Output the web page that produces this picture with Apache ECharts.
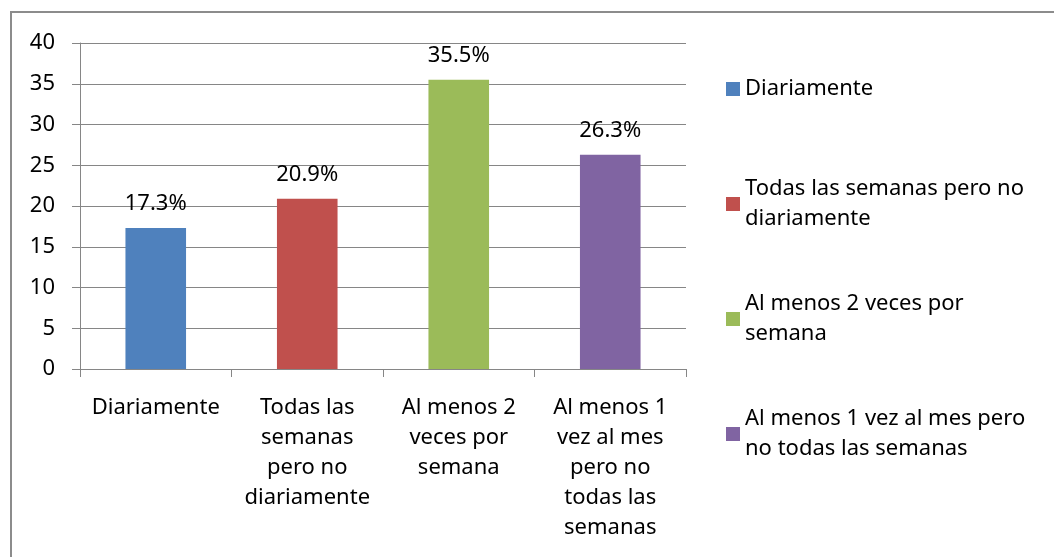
<!DOCTYPE html>
<html>
<head>
<meta charset="utf-8">
<script src="https://cdn.jsdelivr.net/npm/echarts@6/dist/echarts.min.js"></script>
<style>
  html, body { margin: 0; padding: 0; background: #fff; }
  #chart { width: 1054px; height: 557px; }
</style>
</head>
<body>
<div id="chart"></div>
<script>
var categories = ["Diariamente", "Todas las semanas pero no diariamente", "Al menos 2 veces por semana", "Al menos 1 vez al mes pero no todas las semanas"];
var axisLabels = ["Diariamente", "Todas las\nsemanas\npero no\ndiariamente", "Al menos 2\nveces por\nsemana", "Al menos 1\nvez al mes\npero no\ntodas las\nsemanas"];
var legendLabels = ["Diariamente", "Todas las semanas pero no\ndiariamente", "Al menos 2 veces por\nsemana", "Al menos 1 vez al mes pero\nno todas las semanas"];
var values = [17.3, 20.9, 35.5, 26.3];
var colors = ["#4F81BD", "#C0504D", "#9BBB59", "#8064A2"];

var font = "Noto Sans";
var fs = 22;
var lh = 30;

var chart = echarts.init(document.getElementById("chart"));

// one series per category so every bar gets its own legend entry
var series = categories.map(function (name, i) {
    var d = values.map(function (v, j) { return j === i ? v : '-'; });
    return {
        name: name,
        type: 'bar',
        data: d,
        barWidth: '40%',
        barGap: '-100%',
        itemStyle: { color: colors[i] },
        label: {
            show: true,
            position: 'top',
            distance: 13,
            formatter: function (p) { return p.value.toFixed(1) + '%'; },
            color: '#000',
            fontFamily: font,
            fontSize: fs
        },
        animation: false
    };
});

// pad each legend text so the icon sits on the first line and items are evenly spaced
var legendData = categories.map(function (name, i) {
    var lines = legendLabels[i].split('\n').length;
    return {
        name: name,
        textStyle: { padding: lines > 1 ? [lh, 0, 0, 0] : [lh, 0, lh, 0] }
    };
});

var option = {
    backgroundColor: '#fff',
    graphic: [{
        type: 'rect',
        shape: { x: 11, y: 12, width: 1100, height: 600 },
        style: { fill: 'none', stroke: '#8c8c8c', lineWidth: 2 },
        silent: true
    }],
    grid: { left: 80, right: 368, top: 43, bottom: 188 },
    legend: {
        orient: 'vertical',
        left: 721,
        top: 39,
        itemGap: 25,
        itemWidth: 14,
        itemHeight: 14,
        icon: 'rect',
        data: legendData,
        formatter: function (name) { return legendLabels[categories.indexOf(name)]; },
        textStyle: { fontFamily: font, fontSize: fs, color: '#000', lineHeight: lh },
        selectedMode: false
    },
    xAxis: {
        type: 'category',
        data: categories,
        axisLine: { lineStyle: { color: '#868686', width: 1 } },
        axisTick: { show: true, length: 8, lineStyle: { color: '#868686' } },
        axisLabel: {
            interval: 0,
            margin: 24,
            formatter: function (v) { return axisLabels[categories.indexOf(v)]; },
            fontFamily: font,
            fontSize: fs,
            lineHeight: lh,
            color: '#000',
            align: 'center'
        }
    },
    yAxis: {
        type: 'value',
        min: 0,
        max: 40,
        interval: 5,
        axisLine: { show: true, lineStyle: { color: '#868686' } },
        axisTick: { show: true, length: 8, lineStyle: { color: '#868686' } },
        axisLabel: { margin: 25, fontFamily: font, fontSize: fs, color: '#000' },
        splitLine: { lineStyle: { color: '#868686', width: 1 } }
    },
    series: series
};

chart.setOption(option);
</script>
</body>
</html>
